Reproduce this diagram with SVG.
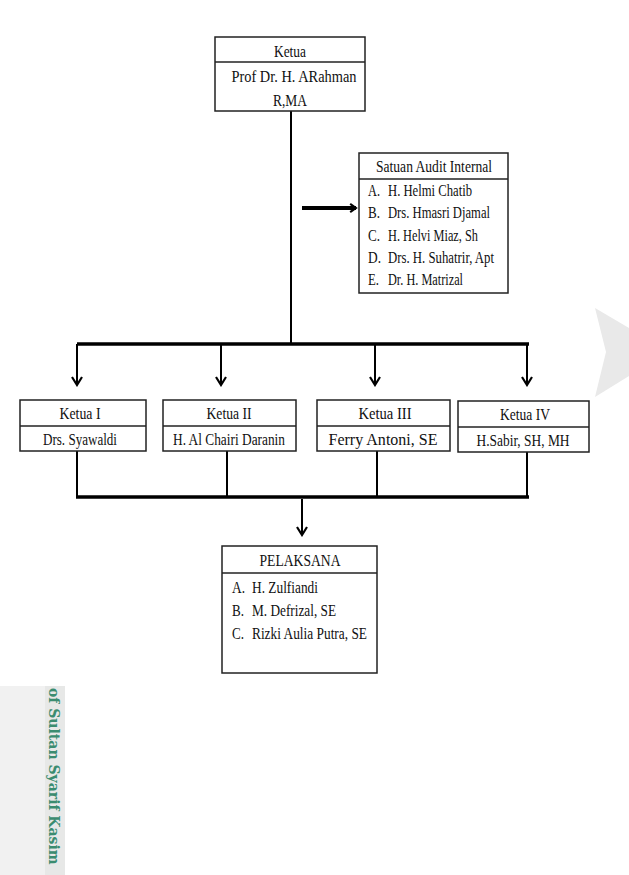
<svg xmlns="http://www.w3.org/2000/svg" width="629" height="875" viewBox="0 0 629 875">
<defs>
<style>
.box{fill:#fff;stroke:#222;stroke-width:1.5}
.div{stroke:#222;stroke-width:1.5}
.t{font-family:"Liberation Serif","Times New Roman",serif;font-size:17.5px;fill:#111}
.c{text-anchor:middle}
.ln{stroke:#000;stroke-width:2;fill:none}
.bus{stroke:#000;stroke-width:3.5;fill:none}
</style>
<marker id="ah" viewBox="0 0 12 12" refX="10" refY="6" markerWidth="12" markerHeight="12" markerUnits="userSpaceOnUse" orient="auto">
<path d="M2,1 L10,6 L2,11" fill="none" stroke="#000" stroke-width="2.2"/>
</marker>
<marker id="ah2" viewBox="0 0 12 12" refX="10" refY="6" markerWidth="10" markerHeight="14" markerUnits="userSpaceOnUse" orient="auto">
<path d="M3,1 L10,6 L3,11" fill="none" stroke="#000" stroke-width="2.5"/>
</marker>
</defs>
<rect width="629" height="875" fill="#fff"/>
<rect x="0" y="686" width="65" height="189" fill="#f1f1f1"/>
<rect x="45" y="686" width="20" height="189" fill="#e7e8e7"/>
<text transform="translate(49,688) rotate(90)" font-family="'DejaVu Serif',serif" font-weight="bold" font-size="14" fill="#3b8c70">of Sultan Syarif Kasim</text>
<polygon points="595,308 629,328 629,376 595,397 606,352" fill="#e9e9e9"/>

<g id="connectors">
<line class="ln" x1="291" y1="111" x2="291" y2="344"/>
<line x1="302" y1="208" x2="356" y2="208" stroke="#000" stroke-width="4" marker-end="url(#ah2)"/>
<line class="bus" x1="77" y1="344" x2="529" y2="344"/>
<line class="ln" x1="77" y1="344" x2="77" y2="385" marker-end="url(#ah)"/>
<line class="ln" x1="221" y1="344" x2="221" y2="385" marker-end="url(#ah)"/>
<line class="ln" x1="375" y1="344" x2="375" y2="385" marker-end="url(#ah)"/>
<line class="ln" x1="527" y1="344" x2="527" y2="385" marker-end="url(#ah)"/>
<line class="ln" x1="77" y1="451" x2="77" y2="497"/>
<line class="ln" x1="227" y1="451" x2="227" y2="497"/>
<line class="ln" x1="377" y1="451" x2="377" y2="497"/>
<line class="ln" x1="527" y1="452" x2="527" y2="497"/>
<line class="bus" x1="76" y1="497" x2="529" y2="497"/>
<line class="ln" x1="302" y1="499" x2="302" y2="535" marker-end="url(#ah)"/>
</g>

<g id="ketua">
<rect class="box" x="215" y="37" width="150" height="74"/>
<line class="div" x1="215" y1="62" x2="365" y2="62"/>
<text class="t c" x="290" y="57" textLength="32" lengthAdjust="spacingAndGlyphs">Ketua</text>
<text class="t c" x="294" y="82" textLength="125" lengthAdjust="spacingAndGlyphs">Prof Dr. H. ARahman</text>
<text class="t c" x="290" y="106" textLength="34" lengthAdjust="spacingAndGlyphs">R,MA</text>
</g>

<g id="satuan-audit">
<rect class="box" x="359" y="153" width="149" height="140"/>
<line class="div" x1="359" y1="179" x2="508" y2="179"/>
<text class="t c" x="434" y="172" textLength="116" lengthAdjust="spacingAndGlyphs">Satuan Audit Internal</text>
<text class="t" x="368" y="196" textLength="12" lengthAdjust="spacingAndGlyphs">A.</text><text class="t" x="388" y="196" textLength="84" lengthAdjust="spacingAndGlyphs">H. Helmi Chatib</text>
<text class="t" x="368" y="218" textLength="12" lengthAdjust="spacingAndGlyphs">B.</text><text class="t" x="388" y="218" textLength="102" lengthAdjust="spacingAndGlyphs">Drs. Hmasri Djamal</text>
<text class="t" x="368" y="241" textLength="12" lengthAdjust="spacingAndGlyphs">C.</text><text class="t" x="388" y="241" textLength="90" lengthAdjust="spacingAndGlyphs">H. Helvi Miaz, Sh</text>
<text class="t" x="368" y="263" textLength="13" lengthAdjust="spacingAndGlyphs">D.</text><text class="t" x="388" y="263" textLength="106" lengthAdjust="spacingAndGlyphs">Drs. H. Suhatrir, Apt</text>
<text class="t" x="368" y="285" textLength="11" lengthAdjust="spacingAndGlyphs">E.</text><text class="t" x="388" y="285" textLength="75" lengthAdjust="spacingAndGlyphs">Dr. H. Matrizal</text>
</g>

<g id="ketua-1">
<rect class="box" x="20" y="400" width="126" height="51"/>
<line class="div" x1="20" y1="426" x2="146" y2="426"/>
<text class="t c" x="80" y="419" textLength="41" lengthAdjust="spacingAndGlyphs">Ketua I</text>
<text class="t c" x="80" y="445" textLength="74" lengthAdjust="spacingAndGlyphs">Drs. Syawaldi</text>
</g>

<g id="ketua-2">
<rect class="box" x="163" y="400" width="133" height="51"/>
<line class="div" x1="163" y1="426" x2="296" y2="426"/>
<text class="t c" x="229" y="419" textLength="45" lengthAdjust="spacingAndGlyphs">Ketua II</text>
<text class="t c" x="229" y="445" textLength="112" lengthAdjust="spacingAndGlyphs">H. Al Chairi Daranin</text>
</g>

<g id="ketua-3">
<rect class="box" x="317" y="400" width="133" height="51"/>
<line class="div" x1="317" y1="426" x2="450" y2="426"/>
<text class="t c" x="385" y="419" textLength="53" lengthAdjust="spacingAndGlyphs">Ketua III</text>
<text class="t c" x="383" y="445" textLength="109" lengthAdjust="spacingAndGlyphs">Ferry Antoni, SE</text>
</g>

<g id="ketua-4">
<rect class="box" x="458" y="401" width="131" height="51"/>
<line class="div" x1="458" y1="427" x2="589" y2="427"/>
<text class="t c" x="525" y="420" textLength="50" lengthAdjust="spacingAndGlyphs">Ketua IV</text>
<text class="t c" x="523" y="446" textLength="93" lengthAdjust="spacingAndGlyphs">H.Sabir, SH, MH</text>
</g>

<g id="pelaksana">
<rect class="box" x="222" y="546" width="155" height="127"/>
<line class="div" x1="222" y1="573" x2="377" y2="573"/>
<text class="t c" x="300" y="566" textLength="81" lengthAdjust="spacingAndGlyphs">PELAKSANA</text>
<text class="t" x="232" y="593" textLength="13" lengthAdjust="spacingAndGlyphs">A.</text><text class="t" x="252" y="593" textLength="66" lengthAdjust="spacingAndGlyphs">H. Zulfiandi</text>
<text class="t" x="232" y="616" textLength="12" lengthAdjust="spacingAndGlyphs">B.</text><text class="t" x="252" y="616" textLength="84" lengthAdjust="spacingAndGlyphs">M. Defrizal, SE</text>
<text class="t" x="232" y="639" textLength="12" lengthAdjust="spacingAndGlyphs">C.</text><text class="t" x="252" y="639" textLength="115" lengthAdjust="spacingAndGlyphs">Rizki Aulia Putra, SE</text>
</g>
</svg>
